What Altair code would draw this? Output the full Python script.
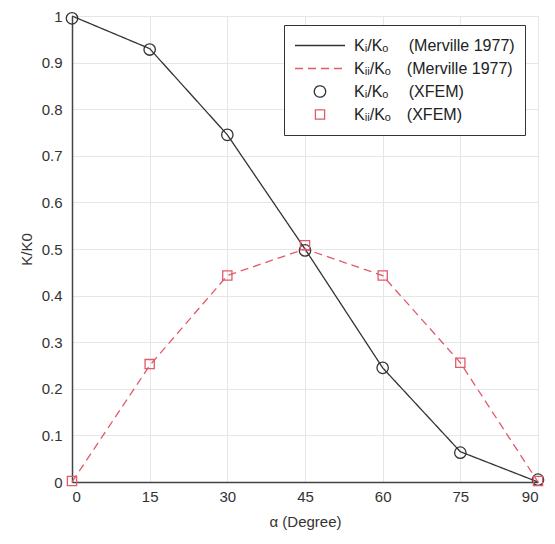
import altair as alt
import pandas as pd

alpha = [0, 15, 30, 45, 60, 75, 90]
ki_merville = [1.0, 0.93, 0.745, 0.5, 0.245, 0.065, 0.0]
kii_merville = [0.0, 0.25, 0.443, 0.5, 0.443, 0.256, 0.0]
ki_xfem = [0.995, 0.928, 0.745, 0.497, 0.245, 0.063, 0.005]
kii_xfem = [0.002, 0.253, 0.443, 0.508, 0.443, 0.256, 0.002]

series_names = [
    "Kᵢ/Kₒ\u2002\u2002 (Merville 1977)",
    "Kᵢᵢ/Kₒ\u2002\u2002(Merville 1977)",
    "Kᵢ/Kₒ\u2002\u2002 (XFEM)",
    "Kᵢᵢ/Kₒ\u2002\u2002(XFEM)",
]
x_ticks = [0, 15, 30, 45, 60, 75, 90]
y_ticks = [0, 0.1, 0.2, 0.3, 0.4, 0.5, 0.6, 0.7, 0.8, 0.9, 1.0]

rows = []
for name, vals in zip(series_names, [ki_merville, kii_merville, ki_xfem, kii_xfem]):
    for a, v in zip(alpha, vals):
        rows.append({"alpha": a, "k": v, "series": name})
df = pd.DataFrame(rows)

BLACK = "#333333"
RED = "#e2596a"

color = alt.Color(
    "series:N",
    scale=alt.Scale(domain=series_names, range=[BLACK, RED, BLACK, RED]),
    legend=alt.Legend(
        title=None,
        orient="none",
        legendX=212,
        legendY=9,
        padding=10,
        fillColor="white",
        strokeColor="#333333",
        cornerRadius=0,
        clipHeight=21,
        symbolOffset=0,
        labelOffset=8,
        labelFont="Liberation Sans",
        labelFontSize=16,
        labelColor="#222222",
        symbolStrokeWidth=1.3,
        labelLimit=300,
    ),
)

x = alt.X(
    "alpha:Q",
    scale=alt.Scale(domain=[0, 90], nice=False),
    axis=alt.Axis(values=x_ticks, title="α (Degree)", format="d", labelPadding=7, titlePadding=10),
)
y = alt.Y(
    "k:Q",
    scale=alt.Scale(domain=[0, 1], nice=False),
    axis=alt.Axis(values=y_ticks, title="K/K0", format=".1~f", labelPadding=10, titlePadding=7),
)

lines = (
    alt.Chart(df)
    .transform_filter(alt.FieldOneOfPredicate(field="series", oneOf=series_names[:2]))
    .mark_line(strokeWidth=1.3)
    .encode(
        x=x,
        y=y,
        color=color,
        strokeDash=alt.StrokeDash(
            "series:N",
            scale=alt.Scale(domain=series_names, range=[[1, 0], [8, 5], [1, 0], [1, 0]]),
            legend=alt.Legend(title=None),
        ),
    )
)

points = (
    alt.Chart(df)
    .transform_filter(alt.FieldOneOfPredicate(field="series", oneOf=series_names[2:]))
    .mark_point(filled=False, strokeWidth=1.3, opacity=1)
    .encode(
        x=x,
        y=y,
        color=color,
        shape=alt.Shape(
            "series:N",
            scale=alt.Scale(domain=series_names, range=["stroke", "stroke", "circle", "square"]),
            legend=alt.Legend(title=None),
        ),
        size=alt.Size(
            "series:N",
            scale=alt.Scale(type="ordinal", domain=series_names, range=[2500, 2500, 130, 85]),
            legend=alt.Legend(title=None),
        ),
    )
)

chart = (
    alt.layer(lines, points)
    .properties(
        width=466,
        height=466,
        autosize=alt.AutoSizeParams(type="none"),
        padding={"left": 64, "top": 8, "right": 9, "bottom": 54},
    )
    .configure_view(stroke="#e3e3e3", strokeWidth=1)
    .configure_axis(
        grid=True,
        gridColor="#e6e6e6",
        gridWidth=1,
        domainColor="#444444",
        domainWidth=1.5,
        ticks=False,
        labelFont="Liberation Sans",
        labelFontSize=15,
        labelColor="#333333",
        titleFont="Liberation Sans",
        titleFontSize=15,
        titleFontWeight="normal",
        titleColor="#333333",
    )
)

chart.save("out.html", embed_options={"renderer": "svg", "actions": False})
